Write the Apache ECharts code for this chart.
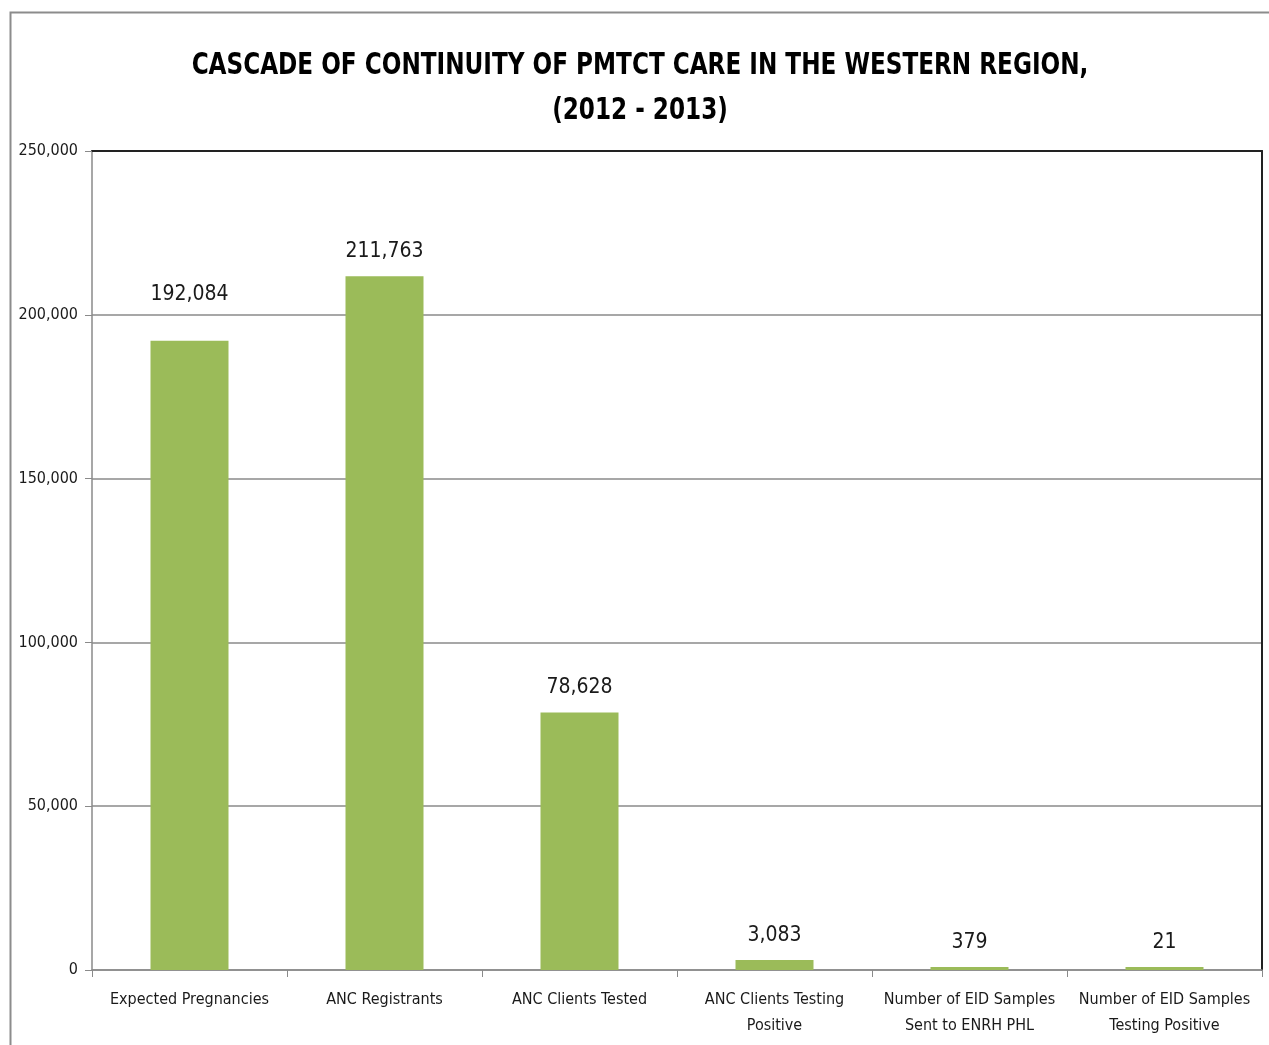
<!DOCTYPE html>
<html>
<head>
<meta charset="utf-8">
<script src="https://cdn.jsdelivr.net/npm/echarts@6/dist/echarts.min.js"></script>
<style>
  html, body { margin: 0; padding: 0; background: #fff; }
  #chart { width: 1269px; height: 1045px; }
</style>
</head>
<body>
<div id="chart"></div>
<script>
// PMTCT cascade, Western Region 2012-2013
const titleLines = [
  'CASCADE OF CONTINUITY OF PMTCT CARE IN THE WESTERN REGION,',
  '(2012 - 2013)'
];
const categories = [
  'Expected Pregnancies',
  'ANC Registrants',
  'ANC Clients Tested',
  'ANC Clients Testing\nPositive',
  'Number of EID Samples\nSent to ENRH PHL',
  'Number of EID Samples\nTesting Positive'
];
const values = [192084, 211763, 78628, 3083, 379, 21];
const yTicks = { min: 0, max: 250000, interval: 50000 };

const FONT = '"DejaVu Sans Condensed", "Liberation Sans Narrow", "Open Sans", sans-serif';

const chart = echarts.init(document.getElementById('chart'), null, { renderer: 'canvas' });

const barData = values.map((v, i) => ({
  value: v,
  label: i === 0 ? { distance: 36 } : {}
}));

// condensed bold heading, two centred lines
const titleGraphics = titleLines.map((line, i) => ({
  type: 'text',
  x: 640,
  y: 66 + i * 45,
  scaleX: 0.83,
  silent: true,
  style: {
    text: line,
    fontFamily: FONT,
    fontWeight: 'bold',
    fontSize: 31,
    fill: '#000',
    align: 'center',
    verticalAlign: 'middle'
  }
}));

chart.setOption({
  backgroundColor: '#ffffff',
  animation: false,
  graphic: [{
    type: 'polyline',
    shape: { points: [[10.5, 1100], [10.5, 12.5], [1300, 12.5]] },
    style: { stroke: '#8c8c8c', lineWidth: 2, fill: null },
    silent: true
  }].concat(titleGraphics),
  grid: { left: 92, top: 151, width: 1170, height: 819, containLabel: false },
  xAxis: [{
    type: 'category',
    data: categories,
    boundaryGap: true,
    axisLine: { lineStyle: { color: '#8a8a8a', width: 1.5 } },
    axisTick: { show: true, length: 7, lineStyle: { color: '#8a8a8a' } },
    axisLabel: {
      interval: 0,
      margin: 17,
      fontFamily: FONT,
      fontSize: 16,
      lineHeight: 26,
      color: '#1a1a1a'
    }
  }, {
    type: 'category',
    position: 'top',
    data: categories,
    axisLine: { onZero: false, lineStyle: { color: '#222', width: 2 } },
    axisTick: { show: false },
    axisLabel: { show: false }
  }],
  yAxis: [{
    type: 'value',
    min: yTicks.min,
    max: yTicks.max,
    interval: yTicks.interval,
    axisLine: { show: true, lineStyle: { color: '#8a8a8a', width: 1.5 } },
    axisTick: { show: true, length: 7, lineStyle: { color: '#8a8a8a' } },
    splitLine: { lineStyle: { color: '#8a8a8a', width: 1.5 } },
    axisLabel: {
      margin: 14,
      fontFamily: FONT,
      fontSize: 16,
      color: '#1a1a1a',
      formatter: v => v.toLocaleString('en-US')
    }
  }, {
    type: 'value',
    position: 'right',
    min: yTicks.min,
    max: yTicks.max,
    interval: yTicks.interval,
    axisLine: { show: true, onZero: false, lineStyle: { color: '#222', width: 2 } },
    axisTick: { show: false },
    axisLabel: { show: false },
    splitLine: { show: false }
  }],
  series: [{
    type: 'bar',
    data: barData,
    barWidth: 78,
    barMinHeight: 3,
    itemStyle: { color: '#9bbb59' },
    label: {
      show: true,
      position: 'top',
      distance: 14,
      fontFamily: FONT,
      fontSize: 21,
      color: '#1a1a1a',
      formatter: p => p.value.toLocaleString('en-US')
    }
  }]
});
</script>
</body>
</html>
